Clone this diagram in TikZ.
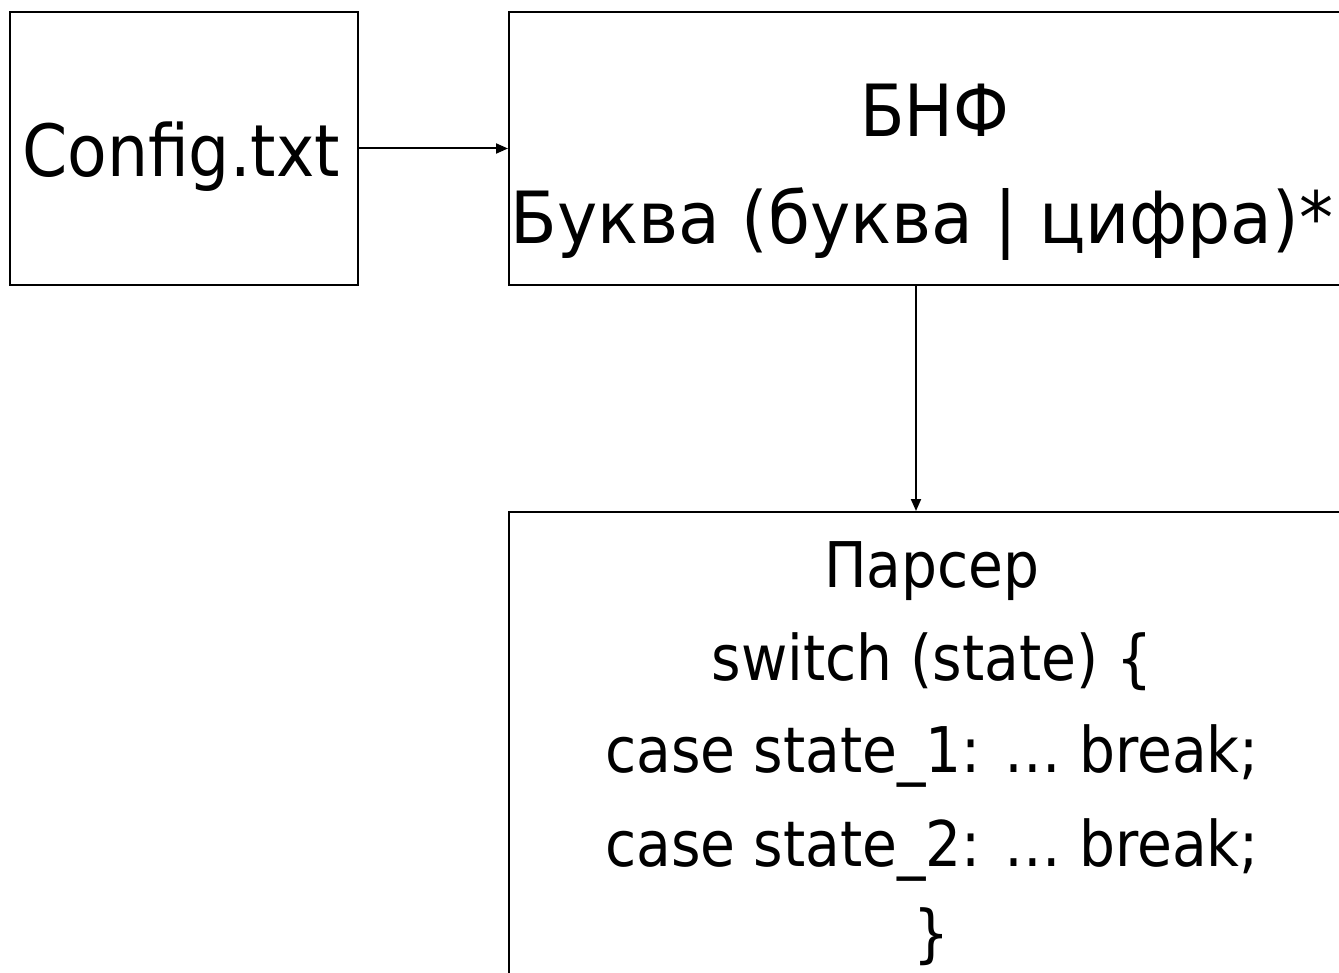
\documentclass[tikz,border=0pt]{standalone}
\usepackage{fontspec}
\setmainfont{DejaVu Sans Condensed}
\usetikzlibrary{arrows.meta}
\begin{document}
\begin{tikzpicture}[x=1pt,y=-1pt,
  box/.style={draw, line width=2pt, inner sep=0pt, anchor=north west},
  txt/.style={anchor=base, inner sep=0pt, font=\fontsize{63}{76}\selectfont},
  bigtxt/.style={txt, font=\fontsize{72}{86}\selectfont},
  arr/.style={line width=2pt, -{Triangle[length=12pt,width=10pt]}}]
\useasboundingbox[fill=white] (0,0) rectangle (1339,973);
% boxes
\node[box, minimum width=348pt, minimum height=273pt] (cfg) at (9,11) {};
\node[box, minimum width=848pt, minimum height=273pt] (bnf) at (508,11) {};
\node[box, minimum width=848pt, minimum height=500pt] (parser) at (508,511) {};
% texts
\node[bigtxt] (cfgt) at (181,177) {Config.txt};
\node[bigtxt] (bnf1) at (935,137) {БНФ};
\node[bigtxt] (bnf2) at (922,244) {\scalebox{1.05}[1]{Буква (буква | цифра)*}};
\node[txt] (p1) at (932,587) {Парсер};
\node[txt] (p2) at (932,680) {switch (state) \{};
\node[txt] (p3) at (932,772) {case state\_1: … break;};
\node[txt] (p4) at (932,866) {case state\_2: … break;};
\node[txt] (p5) at (932,955) {\}};
% connectors
\draw[arr] (cfg.east) -- (bnf.west);
\draw[arr] ([xshift=408pt]bnf.south west) -- ([xshift=408pt]parser.north west);
\end{tikzpicture}
\end{document}
